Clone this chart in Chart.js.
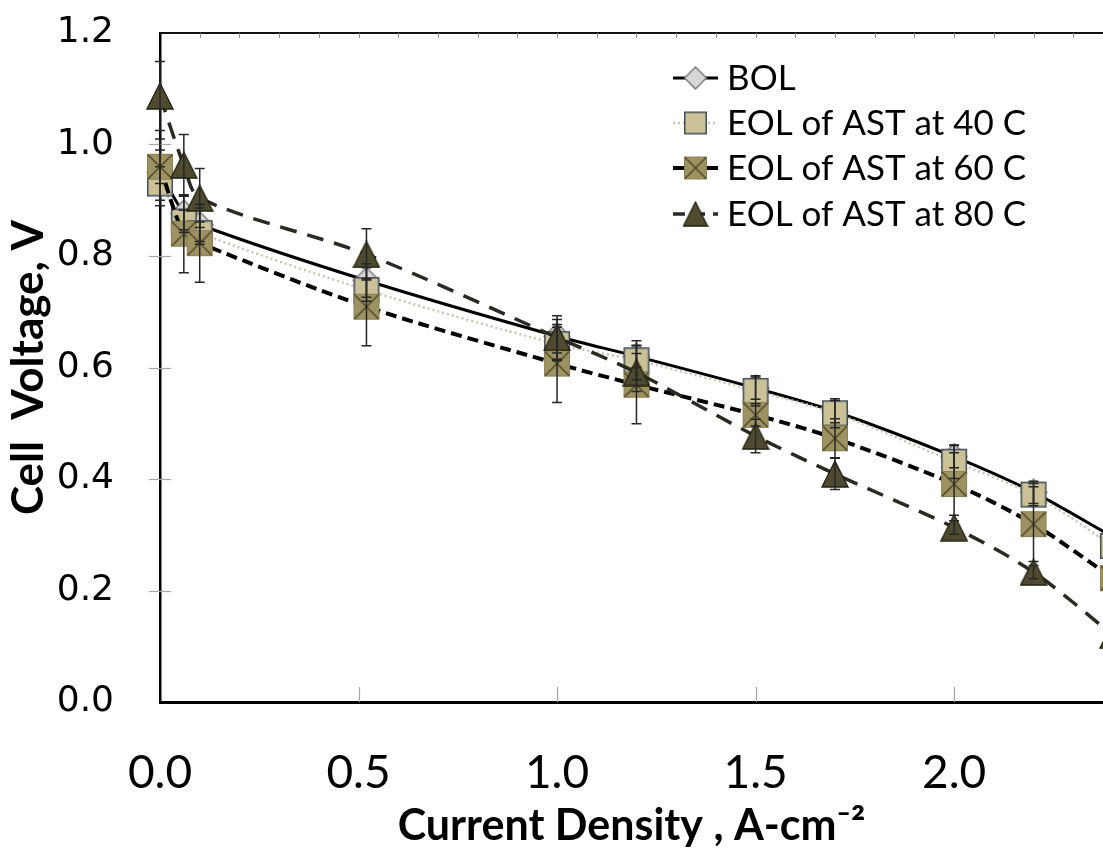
<!DOCTYPE html>
<html>
<head>
<meta charset="utf-8">
<title>Polarization curves</title>
<script src="https://cdn.jsdelivr.net/npm/chart.js@4.4.1/dist/chart.umd.min.js"></script>
<style>
  html, body { margin: 0; padding: 0; background: #ffffff; overflow: hidden; }
  #wrap { width: 1103px; height: 850px; }
</style>
</head>
<body>
<div id="wrap"><canvas id="chart" width="1103" height="850"></canvas></div>
<script>
// Current density (A/cm2) at each measured operating point
const currentDensity = [0, 0.06, 0.1, 0.52, 1.0, 1.2, 1.5, 1.7, 2.0, 2.2, 2.4];

// Cell voltage (V) for each condition
const bolVoltage   = [0.950, 0.877, 0.856, 0.756, 0.656, 0.620, 0.563, 0.521, 0.440, 0.376, 0.296];
const eol40Voltage = [0.930, 0.862, 0.841, 0.739, 0.642, 0.613, 0.558, 0.518, 0.431, 0.372, 0.280];
const eol60Voltage = [0.960, 0.840, 0.823, 0.709, 0.607, 0.569, 0.515, 0.473, 0.391, 0.319, 0.222];
const eol80Voltage = [1.087, 0.963, 0.904, 0.803, 0.654, 0.591, 0.477, 0.409, 0.313, 0.233, 0.120];

// Standard deviation (V) for each point
const bolError   = [0.060, 0.030, 0.030, 0.030, 0.030, 0.020, 0.020, 0.020, 0.020, 0.020, 0.015];
const eol40Error = [0.030, 0.020, 0.020, 0.020, 0.030, 0.035, 0.027, 0.026, 0.030, 0.020, 0.015];
const eol60Error = [0.030, 0.070, 0.070, 0.070, 0.070, 0.070, 0.020, 0.035, 0.056, 0.067, 0.030];
const eol80Error = [0.062, 0.055, 0.053, 0.046, 0.039, 0.034, 0.030, 0.028, 0.012, 0.012, 0.015];

// Series names
const seriesLabels = ['BOL', 'EOL of AST at 40 C', 'EOL of AST at 60 C', 'EOL of AST at 80 C'];

// Axis tick values
const xTickValues = [0.0, 0.5, 1.0, 1.5, 2.0];
const yTickValues = [0.0, 0.2, 0.4, 0.6, 0.8, 1.0, 1.2];
const xMinorValues = [0.1, 0.2, 0.3, 0.4, 0.5, 0.6, 0.7, 0.8, 0.9, 1.0, 1.1, 1.2, 1.3, 1.4, 1.5, 1.6, 1.7, 1.8, 1.9, 2.0, 2.1, 2.2, 2.3];

const LABEL_FONT = "Lato, 'Liberation Sans', Arial, sans-serif";
const YTICK_FONT = "'DejaVu Sans', Verdana, sans-serif";

// ---- marker glyphs -------------------------------------------------------
function makeMarker(kind, size) {
  const c = document.createElement('canvas');
  c.width = size + 2; c.height = size + 2;
  const g = c.getContext('2d');
  const o = 1, s = size;
  g.lineJoin = 'miter';
  if (kind === 'diamond') {
    g.beginPath();
    g.moveTo(o + s / 2, o); g.lineTo(o + s, o + s / 2); g.lineTo(o + s / 2, o + s); g.lineTo(o, o + s / 2); g.closePath();
    g.fillStyle = '#d6d6d6'; g.fill();
    g.lineWidth = 1.3; g.strokeStyle = '#6e6e6e'; g.stroke();
  } else if (kind === 'square') {
    g.fillStyle = '#cbc196'; g.fillRect(o, o, s, s);
    g.lineWidth = 1.5; g.strokeStyle = '#3f4f5d'; g.strokeRect(o + 0.75, o + 0.75, s - 1.5, s - 1.5);
  } else if (kind === 'xsquare') {
    g.fillStyle = '#9d9362'; g.fillRect(o, o, s, s);
    g.lineWidth = 1; g.strokeStyle = '#8a8052'; g.strokeRect(o + 0.5, o + 0.5, s - 1, s - 1);
    g.beginPath();
    g.moveTo(o + 1, o + 1); g.lineTo(o + s - 1, o + s - 1);
    g.moveTo(o + s - 1, o + 1); g.lineTo(o + 1, o + s - 1);
    g.lineWidth = 1.4; g.strokeStyle = '#4a4226'; g.stroke();
  } else if (kind === 'triangle') {
    g.beginPath();
    g.moveTo(o + s / 2, o); g.lineTo(o + s, o + s); g.lineTo(o, o + s); g.closePath();
    g.fillStyle = '#4f4b30'; g.fill();
    g.lineWidth = 1.3; g.strokeStyle = '#22210f'; g.stroke();
  }
  return c;
}

const markers = {
  bol: makeMarker('diamond', 26),
  e40: makeMarker('square', 26),
  e60: makeMarker('xsquare', 26),
  e80: makeMarker('triangle', 26)
};
const legendMarkers = {
  bol: makeMarker('diamond', 22),
  e40: makeMarker('square', 23),
  e60: makeMarker('xsquare', 23),
  e80: makeMarker('triangle', 24)
};

function points(values) {
  return currentDensity.map((x, i) => ({ x: x, y: values[i] }));
}

// ---- error bars ----------------------------------------------------------
const errorBarPlugin = {
  id: 'errorBars',
  afterDatasetsDraw(chart) {
    const { ctx, scales: { x, y } } = chart;
    ctx.save();
    ctx.strokeStyle = '#262626';
    ctx.lineWidth = 1.5;
    chart.data.datasets.forEach((ds, i) => {
      if (!chart.isDatasetVisible(i) || !ds.errorBars) return;
      ds.data.forEach((p, j) => {
        const e = ds.errorBars[j];
        if (!e) return;
        const px = x.getPixelForValue(p.x);
        const top = y.getPixelForValue(p.y + e);
        const bot = y.getPixelForValue(p.y - e);
        ctx.beginPath();
        ctx.moveTo(px, top); ctx.lineTo(px, bot);
        ctx.moveTo(px - 5, top); ctx.lineTo(px + 5, top);
        ctx.moveTo(px - 5, bot); ctx.lineTo(px + 5, bot);
        ctx.stroke();
      });
    });
    ctx.restore();
  }
};

// ---- frame: top border and inner tick marks -----------------------------
const framePlugin = {
  id: 'frame',
  beforeDatasetsDraw(chart) {
    const { ctx, chartArea: a, scales: { x, y } } = chart;
    ctx.save();
    // tick marks along the bottom axis, pointing into the plot
    ctx.strokeStyle = '#a6a6a6';
    ctx.lineWidth = 1.2;
    xTickValues.forEach(v => {
      if (v === 0) return;
      const px = Math.round(x.getPixelForValue(v)) + 0.5;
      ctx.beginPath(); ctx.moveTo(px, a.bottom); ctx.lineTo(px, a.bottom - 15); ctx.stroke();
    });
    // tick marks crossing the vertical axis
    yTickValues.forEach(v => {
      if (v === 0 || v === 1.2) return;
      const py = Math.round(y.getPixelForValue(v)) + 0.5;
      ctx.beginPath(); ctx.moveTo(a.left - 11, py); ctx.lineTo(a.left + 11, py); ctx.stroke();
    });
    // top border with small minor ticks
    ctx.strokeStyle = '#111';
    ctx.lineWidth = 2;
    ctx.beginPath(); ctx.moveTo(a.left, a.top); ctx.lineTo(chart.width, a.top); ctx.stroke();
    ctx.strokeStyle = '#8c8c8c';
    ctx.lineWidth = 1;
    xMinorValues.forEach(v => {
      const px = Math.round(x.getPixelForValue(v)) + 0.5;
      ctx.beginPath(); ctx.moveTo(px, a.top); ctx.lineTo(px, a.top + 5); ctx.stroke();
    });
    ctx.restore();
  }
};

// ---- legend inside the plot ---------------------------------------------
const legendPlugin = {
  id: 'insideLegend',
  afterDraw(chart) {
    const { ctx, chartArea: a } = chart;
    const x0 = a.left + 513, x1 = a.left + 558, tx = a.left + 567;
    const rowY = [a.top + 45, a.top + 90, a.top + 135, a.top + 181];
    const keys = ['bol', 'e40', 'e60', 'e80'];
    ctx.save();
    chart.data.datasets.forEach((ds, i) => {
      const yy = rowY[i];
      ctx.beginPath();
      ctx.setLineDash(ds.legendDash || []);
      ctx.strokeStyle = ds.borderColor;
      ctx.lineWidth = ds.borderWidth;
      ctx.moveTo(x0, yy); ctx.lineTo(x1, yy);
      ctx.stroke();
      ctx.setLineDash([]);
      const m = legendMarkers[keys[i]];
      ctx.drawImage(m, (x0 + x1) / 2 - m.width / 2, yy - m.height / 2);
      ctx.fillStyle = '#000';
      ctx.font = "35px " + LABEL_FONT;
      ctx.textBaseline = 'middle';
      ctx.textAlign = 'left';
      ctx.fillText(ds.label, tx, yy + 1);
    });
    ctx.restore();
  }
};

const common = {
  showLine: true,
  tension: 0.3,
  pointRadius: 14,
  pointHoverRadius: 14,
  pointBorderWidth: 1,
  fill: false,
  clip: false
};

new Chart(document.getElementById('chart'), {
  type: 'scatter',
  data: {
    datasets: [
      Object.assign({}, common, {
        label: seriesLabels[0], data: points(bolVoltage), errorBars: bolError,
        borderColor: '#000000', borderWidth: 3, pointStyle: markers.bol, order: 3,
        legendDash: []
      }),
      Object.assign({}, common, {
        label: seriesLabels[1], data: points(eol40Voltage), errorBars: eol40Error,
        borderColor: '#c6c6b0', borderWidth: 2.5, borderDash: [2, 3], pointStyle: markers.e40, order: 2,
        legendDash: [2, 3]
      }),
      Object.assign({}, common, {
        label: seriesLabels[2], data: points(eol60Voltage), errorBars: eol60Error,
        borderColor: '#000000', borderWidth: 4, borderDash: [11, 6], pointStyle: markers.e60, order: 1,
        legendDash: [11, 6]
      }),
      Object.assign({}, common, {
        label: seriesLabels[3], data: points(eol80Voltage), errorBars: eol80Error,
        borderColor: '#2a2a22', borderWidth: 3.5, borderDash: [17, 11], pointStyle: markers.e80, order: 0,
        legendDash: [12, 8]
      })
    ]
  },
  options: {
    responsive: false,
    animation: false,
    devicePixelRatio: 1,
    layout: { autoPadding: false, padding: { top: 33, right: 0, bottom: 0, left: 0 } },
    plugins: {
      legend: { display: false },
      tooltip: { enabled: false }
    },
    scales: {
      x: {
        type: 'linear',
        min: 0,
        max: 2.375,
        afterBuildTicks: s => { s.ticks = xTickValues.map(v => ({ value: v })); },
        afterFit: s => { s.height = 148; s.paddingLeft = 0; s.paddingRight = 0; },
        grid: { display: false },
        border: { display: true, color: '#000000', width: 3 },
        ticks: {
          autoSkip: false, maxRotation: 0, padding: 36, color: '#000',
          font: { family: LABEL_FONT, size: 46 },
          callback: v => Number(v).toFixed(1)
        },
        title: {
          display: true,
          text: 'Current Density , A-cm⁻²',
          color: '#000',
          font: { family: LABEL_FONT, size: 43, weight: 'bold', lineHeight: 1 },
          padding: { top: 0, bottom: 2 }
        }
      },
      y: {
        type: 'linear',
        min: 0,
        max: 1.2,
        afterBuildTicks: s => { s.ticks = yTickValues.map(v => ({ value: v })); },
        afterFit: s => { s.width = 160; s.paddingTop = 0; s.paddingBottom = 0; },
        grid: { display: false },
        border: { display: true, color: '#000000', width: 2.5 },
        ticks: {
          padding: 38, color: '#000',
          font: { family: YTICK_FONT, size: 36 },
          callback: v => Number(v).toFixed(1)
        },
        title: {
          display: true,
          text: 'Cell  Voltage, V',
          color: '#000',
          font: { family: LABEL_FONT, size: 44, weight: 'bold', lineHeight: 1 },
          padding: { top: 7, bottom: 0 }
        }
      }
    }
  },
  plugins: [framePlugin, errorBarPlugin, legendPlugin]
});
</script>
</body>
</html>
